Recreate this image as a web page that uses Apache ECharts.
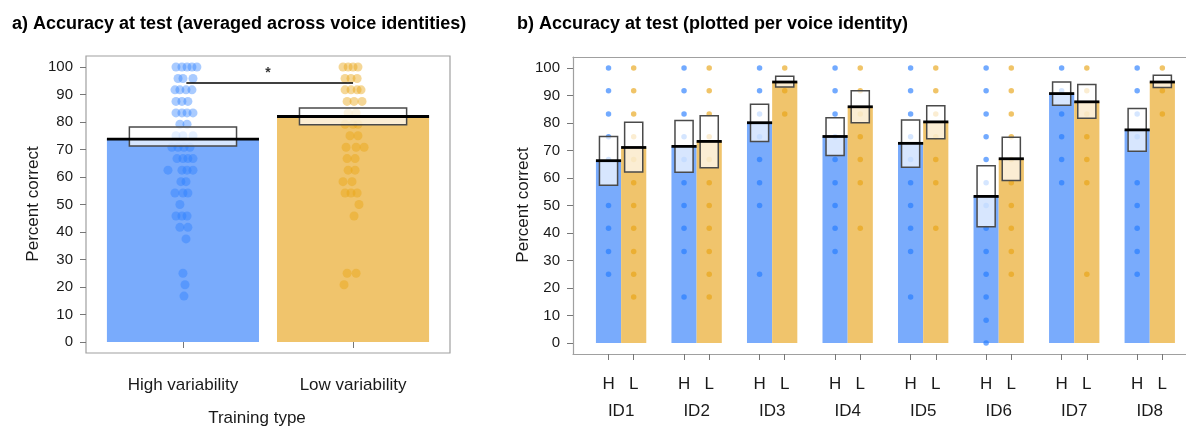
<!DOCTYPE html>
<html><head><meta charset="utf-8">
<script src="https://cdn.jsdelivr.net/npm/echarts@6/dist/echarts.min.js"></script>
<style>html,body{margin:0;padding:0;background:#fff}#c{width:1186px;height:428px}</style>
</head><body><div id="c"></div>
<script>
// ---------- Panel a data ----------
const trainingTypes = ['High variability', 'Low variability'];
const meanA   = [73.8, 82.0];
const ciLowA  = [71.3, 79.0];
const ciHighA = [78.2, 85.1];
// participant scores: [score, [x jitter offsets]]
const dotsHighA = [
  [100, [-0.041,-0.006,0.024,0.053,0.082]],
  [95.8,[-0.029,0,0.059]],
  [91.7,[-0.047,-0.018,0.018,0.053]],
  [87.5,[-0.041,-0.006,0.029]],
  [83.3,[-0.041,-0.006,0.024,0.059]],
  [79.2,[-0.018,0.024]],
  [75,  [-0.041,0,0.059]],
  [70.8,[-0.065,-0.029,0.006,0.041]],
  [66.7,[-0.035,0,0.029,0.059]],
  [62.5,[-0.088,-0.006,0.024,0.059]],
  [58.3,[-0.012,0.018]],
  [54.2,[-0.047,0,0.029]],
  [50,  [-0.018]],
  [45.8,[-0.041,-0.006,0.024]],
  [41.7,[-0.018,0.029]],
  [37.5,[0.018]],
  [25,  [0]],
  [20.8,[0.012]],
  [16.7,[0.006]]
];
const dotsLowA = [
  [100, [-0.059,-0.029,0,0.029]],
  [95.8,[-0.047,-0.012,0.024]],
  [91.7,[-0.047,-0.012,0.024,0.047]],
  [87.5,[-0.035,0.006,0.053]],
  [83.3,[-0.029,0.018]],
  [79.2,[-0.047,0,0.029]],
  [75,  [-0.018,0.029]],
  [70.8,[-0.041,0.018,0.065]],
  [66.7,[-0.035,0.012]],
  [62.5,[-0.029,0.012]],
  [58.3,[-0.059,-0.006]],
  [54.2,[-0.047,-0.012,0.024]],
  [50,  [0.035]],
  [45.8,[0.006]],
  [25,  [-0.035,0.018]],
  [20.8,[-0.053]]
];
const sigY = 94.2;
const sigLabel = '*';

// ---------- Panel b data ----------
const ids = ['ID1','ID2','ID3','ID4','ID5','ID6','ID7','ID8'];
const groupLabels = ['H', 'L'];
const meanH = [66.3, 71.5, 80.1, 75.1, 72.6, 53.3, 90.7, 77.5];
const meanL = [71.1, 73.3, 94.9, 85.9, 80.4, 67.0, 87.7, 94.9];
const ciH_lo = [57.4, 62.1, 73.3, 68.2, 63.9, 42.3, 86.5, 69.7];
const ciH_hi = [75.1, 80.9, 86.8, 81.9, 81.1, 64.5, 94.9, 85.3];
const ciL_lo = [62.2, 63.7, 93.1, 80.1, 74.3, 59.1, 81.7, 92.9];
const ciL_hi = [80.3, 82.6, 97.0, 91.7, 86.3, 74.8, 94.0, 97.4];
const dotsH = [
  [100,91.7,83.3,75,66.7,50,41.7,33.3,25],
  [100,91.7,83.3,75,66.7,58.3,50,41.7,33.3,16.7],
  [100,91.7,83.3,75,66.7,58.3,50,25],
  [100,91.7,83.3,75,66.7,58.3,50,41.7,33.3],
  [100,91.7,83.3,75,66.7,58.3,50,41.7,33.3,16.7],
  [100,91.7,83.3,75,66.7,58.3,50,41.7,33.3,25,16.7,8.3,0],
  [100,91.7,83.3,75,66.7,58.3],
  [100,91.7,83.3,75,58.3,50,41.7,33.3,25]
];
const dotsL = [
  [100,91.7,83.3,75,66.7,58.3,50,41.7,33.3,25,16.7],
  [100,91.7,83.3,75,66.7,58.3,50,41.7,33.3,25,16.7],
  [100,91.7,83.3],
  [100,91.7,83.3,75,66.7,58.3,41.7],
  [100,91.7,83.3,75,66.7,58.3,41.7],
  [100,91.7,83.3,75,66.7,58.3,50,41.7,33.3,25],
  [100,91.7,83.3,75,66.7,58.3,25],
  [100,91.7,83.3]
];
const yTicks = [0,10,20,30,40,50,60,70,80,90,100];

// ---------- build ----------
const BLUE_BAR = '#79abfc', ORANGE_BAR = '#f0c46c';
const BLUE_DOT = 'rgba(40,125,255,0.5)', ORANGE_DOT = 'rgba(232,163,18,0.55)';
const BLUE_DOT_B = 'rgba(35,122,255,0.8)', ORANGE_DOT_B = 'rgba(232,163,18,0.8)';
const FRAME = '#a0a0a0';
const FONT = 'Liberation Sans, Arial, Helvetica, sans-serif';

const posA = [1, 2];
const posH = ids.map((_, g) => 1.5 + 3 * g);
const posL = ids.map((_, g) => 2.5 + 3 * g);
const posID = ids.map((_, g) => 2 + 3 * g);

function barItem(hw, colors) {
  return function (params, api) {
    const x = api.value(0), m = api.value(1);
    const p1 = api.coord([x - hw, m]), p2 = api.coord([x + hw, 0]);
    return { type: 'rect', shape: { x: p1[0], y: p1[1], width: p2[0] - p1[0], height: p2[1] - p1[1] },
      style: { fill: colors[api.value(2)] } };
  };
}
function boxItem(hw) {
  return function (params, api) {
    const x = api.value(0), lo = api.value(1), hi = api.value(2);
    const p1 = api.coord([x - hw, hi]), p2 = api.coord([x + hw, lo]);
    return { type: 'rect', shape: { x: p1[0], y: p1[1], width: p2[0] - p1[0], height: p2[1] - p1[1] },
      style: { fill: 'rgba(255,255,255,0.7)', stroke: '#4a4a4a', lineWidth: 1.5 } };
  };
}
function meanItem(hw) {
  return function (params, api) {
    const x = api.value(0), m = api.value(1);
    const p1 = api.coord([x - hw, m]), p2 = api.coord([x + hw, m]);
    return { type: 'line', shape: { x1: p1[0], y1: p1[1], x2: p2[0], y2: p2[1] },
      style: { stroke: '#000', lineWidth: 2.8 } };
  };
}
function jitterDots(rows, center) {
  const out = [];
  rows.forEach(r => r[1].forEach(j => out.push([center + j, r[0]])));
  return out;
}

function yAxisCfg(grid, showLine) {
  return {
    type: 'value', gridIndex: grid, min: -4, max: 104,
    axisLine: { show: showLine, lineStyle: { color: FRAME, width: 1.2 } }, splitLine: { show: false },
    axisTick: { show: true, customValues: yTicks, length: 6, lineStyle: { color: '#777', width: 1 } },
    axisLabel: { customValues: yTicks, margin: 13, fontSize: 15, color: '#1a1a1a', fontFamily: FONT }
  };
}

const option = {
  animation: false,
  backgroundColor: '#fff',
  grid: [
    { left: 86, top: 56, width: 364, height: 297, show: true, borderColor: FRAME, borderWidth: 1.2, backgroundColor: 'transparent' },
    { left: 573, top: 57, right: 0, height: 297, show: false }
  ],
  xAxis: [
    { type: 'value', gridIndex: 0, min: 0.43, max: 2.57, splitLine: { show: false }, axisLine: { show: false },
      axisTick: { show: true, customValues: posA, length: 6, lineStyle: { color: '#777' } },
      axisLabel: { customValues: posA, margin: 24, fontSize: 17, color: '#1a1a1a', fontFamily: FONT,
        formatter: v => trainingTypes[Math.round(v) - 1] } },
    { type: 'value', gridIndex: 1, min: 0.089, max: 24.44, splitLine: { show: false },
      axisLine: { show: true, onZero: false, lineStyle: { color: FRAME, width: 1.2 } },
      axisTick: { show: true, customValues: posH.concat(posL), length: 6, lineStyle: { color: '#777' } },
      axisLabel: { customValues: posH.concat(posL), margin: 22, fontSize: 17, color: '#1a1a1a', fontFamily: FONT,
        formatter: v => groupLabels[Math.round(((v - 1.5) % 3 + 3) % 3)] } },
    { type: 'value', gridIndex: 1, position: 'bottom', offset: 0, min: 0.089, max: 24.44, splitLine: { show: false },
      axisLine: { show: false }, axisTick: { show: false },
      axisLabel: { customValues: posID, margin: 49, fontSize: 17, color: '#1a1a1a', fontFamily: FONT,
        formatter: v => ids[Math.round((v - 2) / 3)] } },
    { type: 'value', gridIndex: 1, position: 'top', min: 0.089, max: 24.44, splitLine: { show: false },
      axisLine: { show: true, onZero: false, lineStyle: { color: FRAME, width: 1.2 } },
      axisTick: { show: false }, axisLabel: { show: false } }
  ],
  yAxis: [ yAxisCfg(0, false), yAxisCfg(1, true) ],
  series: [
    // panel a
    { type: 'custom', xAxisIndex: 0, yAxisIndex: 0, z: 1, renderItem: barItem(0.447, [BLUE_BAR, ORANGE_BAR]),
      encode: { x: 0, y: 1 }, data: posA.map((x, i) => [x, meanA[i], i]) },
    { type: 'scatter', xAxisIndex: 0, yAxisIndex: 0, z: 2, symbolSize: 9, itemStyle: { color: BLUE_DOT },
      data: jitterDots(dotsHighA, posA[0]) },
    { type: 'scatter', xAxisIndex: 0, yAxisIndex: 0, z: 2, symbolSize: 9, itemStyle: { color: ORANGE_DOT },
      data: jitterDots(dotsLowA, posA[1]) },
    { type: 'custom', xAxisIndex: 0, yAxisIndex: 0, z: 3, renderItem: boxItem(0.315),
      encode: { x: 0, y: [1, 2] }, data: posA.map((x, i) => [x, ciLowA[i], ciHighA[i]]) },
    { type: 'custom', xAxisIndex: 0, yAxisIndex: 0, z: 4, renderItem: meanItem(0.447),
      encode: { x: 0, y: 1 }, data: posA.map((x, i) => [x, meanA[i]]) },
    { type: 'line', xAxisIndex: 0, yAxisIndex: 0, z: 5, symbol: 'none', lineStyle: { color: '#000', width: 1.6 },
      data: [[posA[0] + 0.02, sigY], [posA[1], sigY]] },
    { type: 'scatter', xAxisIndex: 0, yAxisIndex: 0, z: 5, symbolSize: 0,
      label: { show: true, formatter: sigLabel, position: 'inside', fontSize: 14, fontWeight: 'bold', color: '#000', fontFamily: FONT },
      data: [[(posA[0] + posA[1]) / 2, sigY + 3.4]] },
    // panel b
    { type: 'custom', xAxisIndex: 1, yAxisIndex: 1, z: 1, renderItem: barItem(0.5, [BLUE_BAR, ORANGE_BAR]),
      encode: { x: 0, y: 1 }, data: posH.map((x, i) => [x, meanH[i], 0]).concat(posL.map((x, i) => [x, meanL[i], 1])) },
    { type: 'scatter', xAxisIndex: 1, yAxisIndex: 1, z: 2, symbolSize: 5.5, itemStyle: { color: BLUE_DOT_B },
      data: [].concat(...dotsH.map((arr, g) => arr.map(v => [posH[g], v]))) },
    { type: 'scatter', xAxisIndex: 1, yAxisIndex: 1, z: 2, symbolSize: 5.5, itemStyle: { color: ORANGE_DOT_B },
      data: [].concat(...dotsL.map((arr, g) => arr.map(v => [posL[g], v]))) },
    { type: 'custom', xAxisIndex: 1, yAxisIndex: 1, z: 3, renderItem: boxItem(0.36),
      encode: { x: 0, y: [1, 2] },
      data: posH.map((x, i) => [x, ciH_lo[i], ciH_hi[i]]).concat(posL.map((x, i) => [x, ciL_lo[i], ciL_hi[i]])) },
    { type: 'custom', xAxisIndex: 1, yAxisIndex: 1, z: 4, renderItem: meanItem(0.5),
      encode: { x: 0, y: 1 }, data: posH.map((x, i) => [x, meanH[i]]).concat(posL.map((x, i) => [x, meanL[i]])) }
  ],
  graphic: [
    { type: 'text', x: 12, y: 24, style: { text: 'a) Accuracy at test (averaged across voice identities)', fontSize: 18, fontWeight: 'bold', fill: '#000', fontFamily: FONT, textAlign: 'left', textVerticalAlign: 'middle' } },
    { type: 'text', x: 517, y: 24, style: { text: 'b) Accuracy at test (plotted per voice identity)', fontSize: 18, fontWeight: 'bold', fill: '#000', fontFamily: FONT, textAlign: 'left', textVerticalAlign: 'middle' } },
    { type: 'text', x: 33, y: 204, rotation: Math.PI / 2, style: { text: 'Percent correct', fontSize: 17, fill: '#1a1a1a', fontFamily: FONT, textAlign: 'center', textVerticalAlign: 'middle' } },
    { type: 'text', x: 523, y: 205, rotation: Math.PI / 2, style: { text: 'Percent correct', fontSize: 17, fill: '#1a1a1a', fontFamily: FONT, textAlign: 'center', textVerticalAlign: 'middle' } },
    { type: 'text', x: 257, y: 418, style: { text: 'Training type', fontSize: 17, fill: '#1a1a1a', fontFamily: FONT, textAlign: 'center', textVerticalAlign: 'middle' } }
  ]
};
const chart = echarts.init(document.getElementById('c'), null, { renderer: 'canvas' });
chart.setOption(option);
</script>
</body></html>
